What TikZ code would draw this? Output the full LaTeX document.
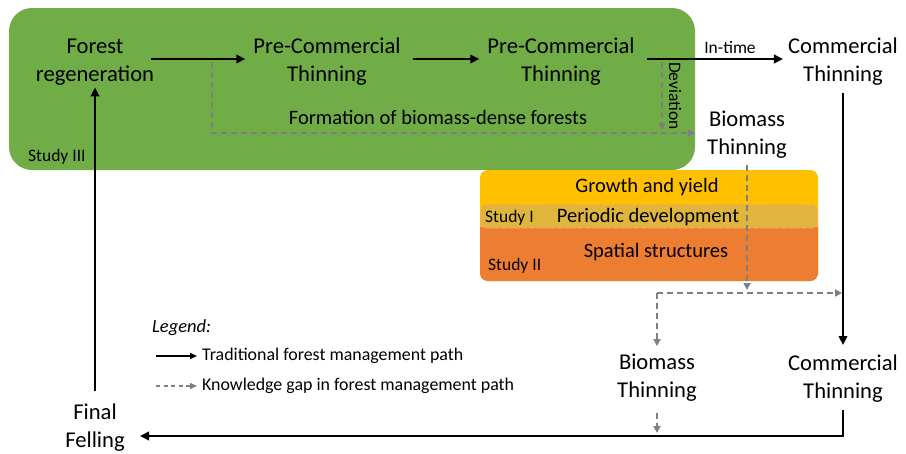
\documentclass[tikz,border=0pt]{standalone}
\usepackage{fontspec}
\setmainfont{Carlito}
\usetikzlibrary{arrows.meta,calc}

\definecolor{leafgreen}{HTML}{70AD47}
\definecolor{gold}{HTML}{FFC000}
\definecolor{tangerine}{HTML}{ED7D31}
\definecolor{bandfill}{HTML}{DFB63B}
\definecolor{bandedge}{HTML}{F4A070}
\definecolor{gapgray}{HTML}{7F7F7F}

\tikzset{
  stage/.style={align=center, font=\fontsize{22.6}{28}\selectfont, inner sep=2pt},
  lblmid/.style={font=\fontsize{20.5}{24}\selectfont, inner sep=0pt},
  lblsmall/.style={font=\fontsize{17.5}{21}\selectfont, inner sep=0pt},
  lbllegend/.style={font=\fontsize{17.9}{21}\selectfont, inner sep=0pt},
  mgmt/.style={line width=2.8pt, -{Triangle[length=9pt,width=8.5pt]}},
  gap/.style={draw=gapgray, line width=2pt, dash pattern=on 6pt off 4pt,
    -{Triangle[length=7pt,width=7pt]}},
  legmgmt/.style={line width=1.7pt, -{Triangle[length=7pt,width=6pt]}},
  leggap/.style={draw=gapgray, line width=1.5pt, dash pattern=on 4pt off 3.5pt,
    -{Triangle[length=7pt,width=6pt]}},
}

\begin{document}
\begin{tikzpicture}[x=1pt,y=-1pt]
\useasboundingbox (0,0) rectangle (906,453);

% Study III area: forest establishment phase
\fill[leafgreen, rounded corners=23pt] (9,8) rectangle (695,170);

% Studies I and II: growth, periodic development and spatial structures
\fill[gold, rounded corners=8pt] (480,170) rectangle (818,281);
\fill[tangerine] (480,227) {[rounded corners=8pt] -- (480,281) -- (818,281)} -- (818,227) -- cycle;
\filldraw[fill=bandfill, draw=bandedge, line width=1.4pt, dash pattern=on 4pt off 3pt,
  rounded corners=6pt] (481,205) rectangle (817,228);

\node[lblmid, anchor=base] (gy) at (647,192) {Growth and yield};
\node[lblmid, anchor=base] (pd) at (648,222) {Periodic development};
\node[lblmid, anchor=base] (ss) at (656,257) {Spatial structures};
\node[lblsmall, anchor=base west] (s1) at (485,222) {Study I};
\node[lblsmall, anchor=base west] (s2) at (488,270) {Study II};
\node[lblsmall, anchor=base west] (s3) at (28,161) {Study III};

% management stages
\node[stage] (fr)  at (95,62)   {Forest\\regeneration};
\node[stage] (pc1) at (327,62)  {Pre-Commercial\\Thinning};
\node[stage] (pc2) at (561,62)  {Pre-Commercial\\Thinning};
\node[stage] (ct1) at (843,62)  {Commercial\\Thinning};
\node[stage] (bt1) at (747,135) {Biomass\\Thinning};
\node[stage] (bt2) at (657,378) {Biomass\\Thinning};
\node[stage] (ct2) at (843,379) {Commercial\\Thinning};
\node[stage] (ff)  at (95,428)  {Final\\Felling};

% traditional path
\draw[mgmt] ([xshift=-5pt,yshift=3pt]fr.east) -- ([xshift=-6pt,yshift=3pt]pc1.west);
\draw[mgmt] ([xshift=10pt,yshift=3pt]pc1.east) -- ([xshift=-6pt,yshift=3pt]pc2.west);
\draw[mgmt] ([xshift=10pt,yshift=3pt]pc2.east) -- ([xshift=-3pt,yshift=3pt]ct1.west);
\node[lblsmall, anchor=base] (it) at (730,53) {In-time};
\draw[mgmt] ([yshift=-5pt]ct1.south) -- ([yshift=8pt]ct2.north);
\coordinate (ffend) at (140,436);
\draw[mgmt] ([yshift=-5pt]ct2.south) |- (ffend);
\draw[mgmt] ([yshift=11pt]ff.north) -- (fr.south);

% knowledge gaps
\coordinate (devtop) at (662,62);
\coordinate (devend) at (662,130);
\draw[gap] (devtop) -- (devend);
\node[lblsmall, rotate=-90] (dv) at (675,96) {Deviation};

\coordinate (fmtop) at (212,62);
\coordinate (fmend) at (695,133);
\draw[gap] (fmtop) |- (fmend);
\node[lblmid, anchor=base] (fm) at (438,124) {Formation of biomass-dense forests};

\coordinate (btdrop) at (747,290);
\draw[gap] ([yshift=-4pt]bt1.south) -- (btdrop);
\coordinate (gapL) at (657,293);
\coordinate (gapR) at (842,293);
\draw[gap] (gapL) -- (gapR);
\draw[gap] (gapL) -- ([yshift=6pt]bt2.north);
\coordinate (btdown) at (657,433);
\draw[gap] ([yshift=-9pt]bt2.south) -- (btdown);

% legend
\node[anchor=base west, inner sep=0pt, font=\fontsize{18.5}{22}\selectfont\itshape] (lgd) at (152,332) {Legend:};
\node[lbllegend, anchor=base west] (lg1) at (202,360) {Traditional forest management path};
\node[lbllegend, anchor=base west] (lg2) at (202,390) {Knowledge gap in forest management path};
\coordinate (lg1s) at (156,356);
\coordinate (lg2s) at (156,386);
\draw[legmgmt] (lg1s) -- ([xshift=-5pt]lg1s -| lg1.west);
\draw[leggap] (lg2s) -- ([xshift=-5pt]lg2s -| lg2.west);
\end{tikzpicture}
\end{document}
